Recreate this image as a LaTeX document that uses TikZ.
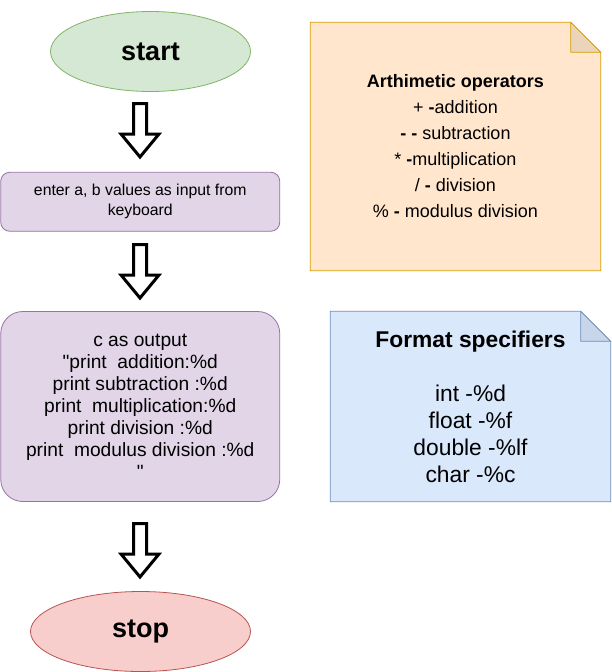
\documentclass[tikz,border=0pt]{standalone}
\usepackage{fontspec}
\setmainfont{Liberation Sans}[Ligatures=TeXOff]
\usetikzlibrary{shapes.geometric,positioning}

\definecolor{startfill}{HTML}{D5E8D4}
\definecolor{startline}{HTML}{82B366}
\definecolor{stopfill}{HTML}{F8CECC}
\definecolor{stopline}{HTML}{B85450}
\definecolor{boxfill}{HTML}{E1D5E7}
\definecolor{boxline}{HTML}{9673A6}
\definecolor{arithfill}{HTML}{FFE6CC}
\definecolor{arithline}{HTML}{D79B00}
\definecolor{formatfill}{HTML}{DAE8FC}
\definecolor{formatline}{HTML}{6C8EBF}

\tikzset{
  pics/block arrow/.style={code={
    \draw[line width=3pt,fill=white,miter limit=10]
      (-6.5,-27.5) -- (6.5,-27.5) -- (6.5,3) -- (19,3) -- (0,26)
      -- (-19,3) -- (-6.5,3) -- cycle;
  }}
}

\begin{document}
\begin{tikzpicture}[x=1pt,y=-1pt,
                    terminal/.style={ellipse,draw,line width=0.8pt,inner sep=0pt,
                      minimum height=80pt,font=\fontsize{27}{30}\selectfont\bfseries},
                    process/.style={rectangle,draw=boxline,fill=boxfill,line width=0.8pt,
                      align=center,minimum width=279pt},
                    note/.style={rectangle,align=center,inner sep=0pt}]

  \useasboundingbox (0,0) rectangle (611,672);

  % flow column
  \node[terminal,fill=startfill,draw=startline,minimum width=200pt] (start) at (150.5,51.5) {start};
  \node[process,rounded corners=9pt,minimum height=59pt,
        font=\fontsize{15.8}{20}\selectfont] (input) at (140.25,201.75)
        {enter a, b values as input from\\keyboard};
  \node[process,rounded corners=22pt,minimum height=190pt,
        font=\fontsize{19.2}{22}\selectfont] (output) at (140.25,406.5)
        {c as output\\"print\ \ addition:\%d\\print subtraction :\%d\\
         print\ \ multiplication:\%d\\print division :\%d\\
         print\ \ modulus division :\%d\\"};
  \node[terminal,fill=stopfill,draw=stopline,minimum width=220pt] (stop) at (140.5,631.5) {stop};

  \pic (arrowA) at (140,131) {block arrow};
  \pic (arrowB) at (140,272) {block arrow};
  \pic (arrowC) at (140,551) {block arrow};

  % notes
  \node[note,minimum width=290pt,minimum height=248pt] (arith) at (455.5,146.5) {};
  \draw[arithline,fill=arithfill,line width=0.8pt]
    (arith.north west) -- ([xshift=-30pt]arith.north east) -- ([yshift=-30pt]arith.north east)
    -- (arith.south east) -- (arith.south west) -- cycle;
  \draw[arithline,fill=arithfill!92!black,line width=0.8pt,line join=round]
    ([xshift=-30pt]arith.north east) -- ([xshift=-30pt,yshift=-30pt]arith.north east)
    -- ([yshift=-30pt]arith.north east) -- cycle;
  \node[note,font=\fontsize{18}{26}\selectfont] at (arith.center)
        {\textbf{Arthimetic operators}\\+ \textbf{-}addition\\\textbf{- -} subtraction\\
         * \textbf{-}multiplication\\/ \textbf{-} division\\\% \textbf{-} modulus division};

  \node[note,minimum width=280pt,minimum height=190pt] (format) at (470.5,406.5) {};
  \draw[formatline,fill=formatfill,line width=0.8pt]
    (format.north west) -- ([xshift=-30pt]format.north east) -- ([yshift=-30pt]format.north east)
    -- (format.south east) -- (format.south west) -- cycle;
  \draw[formatline,fill=formatfill!92!black,line width=0.8pt,line join=round]
    ([xshift=-30pt]format.north east) -- ([xshift=-30pt,yshift=-30pt]format.north east)
    -- ([yshift=-30pt]format.north east) -- cycle;
  \node[note,font=\fontsize{22.8}{27}\selectfont] at (format.center)
        {\textbf{Format specifiers}\\[27pt]int -\%d\\float -\%f\\double -\%lf\\char -\%c};
\end{tikzpicture}
\end{document}
